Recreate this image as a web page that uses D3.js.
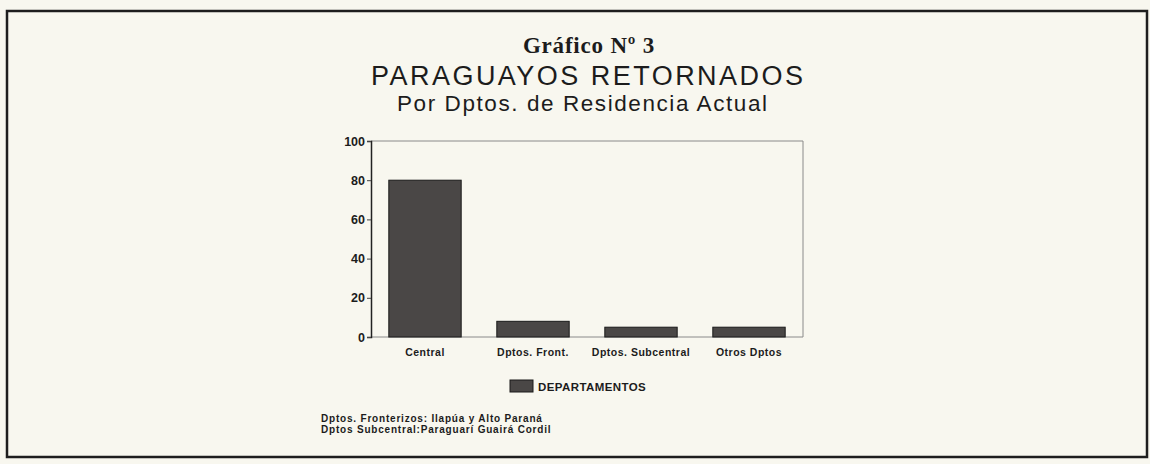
<!DOCTYPE html>
<html>
<head>
<meta charset="utf-8">
<script src="https://cdn.jsdelivr.net/npm/d3@7"></script>
<style>
  body { margin: 0; background: #f8f7ef; }
  svg { display: block; }
  text { fill: #1c1c1c; }
  .sans { font-family: "Liberation Sans", Arial, sans-serif; }
  .axis text { font-family: "Liberation Sans", Arial, sans-serif; font-weight: bold; }
</style>
</head>
<body>
<div id="chart"></div>
<script>
// chart values
const categories = ['Central', 'Dptos. Front.', 'Dptos. Subcentral', 'Otros Dptos'];
const values = [80, 8, 5, 5];
const yTicks = [0, 20, 40, 60, 80, 100];
const seriesName = 'DEPARTAMENTOS';
const footnotes = [
  'Dptos. Fronterizos: Ilapúa y Alto Paraná',
  'Dptos Subcentral:Paraguarí Guairá Cordil'
];

const svgWidth = 1150, svgHeight = 464;
const margin = { top: 141, right: 347, bottom: 127, left: 371 };
const width = svgWidth - margin.left - margin.right;
const height = svgHeight - margin.top - margin.bottom;

const svg = d3.select('#chart')
  .append('svg')
  .attr('width', svgWidth)
  .attr('height', svgHeight);

// outer frame
svg.append('rect')
  .attr('x', 7).attr('y', 11)
  .attr('width', 1140).attr('height', 446)
  .attr('fill', 'none')
  .attr('stroke', '#1e1e1e')
  .attr('stroke-width', 2.5);

// titles
svg.append('text')
  .attr('x', 589).attr('y', 53)
  .attr('text-anchor', 'middle')
  .style('font-family', '"Liberation Serif", "Times New Roman", serif')
  .style('font-weight', 'bold')
  .style('font-size', '23px')
  .style('letter-spacing', '0.8px')
  .text('Gráfico Nº 3');

svg.append('text')
  .attr('class', 'sans')
  .attr('x', 587).attr('y', 85)
  .attr('text-anchor', 'middle')
  .style('font-size', '27px')
  .attr('textLength', 432)
  .attr('lengthAdjust', 'spacing')
  .text('PARAGUAYOS RETORNADOS');

svg.append('text')
  .attr('class', 'sans')
  .attr('x', 582).attr('y', 111)
  .attr('text-anchor', 'middle')
  .style('font-size', '22.5px')
  .attr('textLength', 370)
  .attr('lengthAdjust', 'spacing')
  .text('Por Dptos. de Residencia Actual');

const x = d3.scaleBand().domain(categories).range([0, width]).paddingInner(0.33).paddingOuter(0.165);
const y = d3.scaleLinear().domain([0, 100]).range([height, 0]);

const g = svg.append('g')
  .attr('transform', 'translate(' + margin.left + ',' + margin.top + ')');

// plot frame (top, right, bottom)
g.append('path')
  .attr('d', 'M0,0H' + width + 'V' + height + 'H0')
  .attr('fill', 'none')
  .attr('stroke', '#8a8a8a')
  .attr('stroke-width', 1);

// bars
g.selectAll('.bar')
  .data(values)
  .enter()
  .append('rect')
  .attr('class', 'bar')
  .attr('x', (d, i) => x(categories[i]))
  .attr('y', d => y(d))
  .attr('width', x.bandwidth())
  .attr('height', d => height - y(d))
  .attr('fill', '#4a4746')
  .attr('stroke', '#1a1a1a')
  .attr('stroke-width', 1);

// y axis
const yAxis = g.append('g')
  .attr('class', 'axis')
  .call(d3.axisLeft(y).tickValues(yTicks).tickSize(4).tickPadding(2));
yAxis.select('.domain').attr('stroke', '#222').attr('stroke-width', 1.5);
yAxis.selectAll('.tick line').attr('stroke', '#444');
yAxis.selectAll('text').style('font-size', '12.5px').attr('fill', '#1c1c1c');

// x axis labels
const xAxis = g.append('g')
  .attr('class', 'axis')
  .attr('transform', 'translate(0,' + height + ')')
  .call(d3.axisBottom(x).tickSize(0).tickPadding(12));
xAxis.select('.domain').remove();
xAxis.selectAll('text')
  .style('font-size', '10.5px')
  .style('letter-spacing', '0.5px')
  .attr('fill', '#1c1c1c');

// legend
const legend = svg.append('g').attr('transform', 'translate(510,380)');
legend.append('rect')
  .attr('width', 23).attr('height', 12)
  .attr('fill', '#4a4746')
  .attr('stroke', '#1a1a1a');
legend.append('text')
  .attr('class', 'sans')
  .attr('x', 28).attr('y', 11)
  .style('font-size', '11.5px')
  .style('letter-spacing', '0.4px')
  .style('font-weight', 'bold')
  .text(seriesName);

// footnotes
svg.selectAll('.note')
  .data(footnotes)
  .enter()
  .append('text')
  .attr('class', 'sans note')
  .attr('x', 321)
  .attr('y', (d, i) => 422 + i * 11)
  .style('font-size', '10px')
  .style('letter-spacing', '0.8px')
  .style('font-weight', 'bold')
  .text(d => d);
</script>
</body>
</html>
